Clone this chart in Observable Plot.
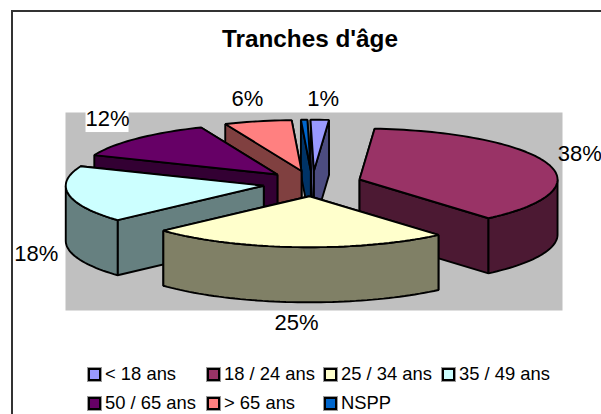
<!DOCTYPE html>
<html lang="fr">
<head>
<meta charset="utf-8">
<script src="https://cdn.jsdelivr.net/npm/d3@7"></script>
<script src="https://cdn.jsdelivr.net/npm/@observablehq/plot@0.6"></script>
<style>
  html, body { margin: 0; padding: 0; background: #fff; }
  #chart { position: relative; width: 601px; height: 414px; overflow: hidden;
           font-family: "Liberation Sans", Arial, sans-serif; color: #000; }
  #border { position: absolute; left: 11px; top: 10px; width: 700px; height: 500px;
            border: 2px solid #333; box-sizing: border-box; }
  #title { position: absolute; left: 0; width: 620px; top: 26px; text-align: center;
           font-size: 24.3px; line-height: 26px; font-weight: bold; }
  #plot { position: absolute; left: 0; top: 85px; }
  #plot svg { display: block; overflow: visible; background: transparent; }
  #legend { position: absolute; left: 88px; top: 361px; width: 500px; font-size: 18.4px; }
  #legend span.item { position: absolute; white-space: nowrap; display: flex; align-items: center; height: 26px; }
  #legend i { display: inline-block; width: 13px; height: 13px; box-sizing: border-box;
              border: 2px solid #000; outline: 1px solid #999; outline-offset: -0.5px; margin-right: 4px; }
</style>
</head>
<body>
<div id="chart">
  <div id="border"></div>
  <div id="title">Tranches d'âge</div>
  <div id="plot"></div>
  <div id="legend"></div>
</div>
<script>
// Data
const categories = ["< 18 ans", "18 / 24 ans", "25 / 34 ans", "35 / 49 ans", "50 / 65 ans", "> 65 ans", "NSPP"];
const percentLabels = ["1%", "38%", "25%", "18%", "12%", "6%", ""];
const shares = [1.49, 37.5, 24.5, 18, 12.49, 5.5, 0.52];
const topColors = ["#9999FF", "#993366", "#FFFFCC", "#CCFFFF", "#660066", "#FF8080", "#0066CC"];
const wallColors = ["#4C4C80", "#4C1933", "#808066", "#668080", "#330033", "#804040", "#003366"];

// Layout: x unit = horizontal pie radius, y unit = vertical pie radius
const RX = 198, RY = 51, EXPLODE = 0.25, DEPTH = 1.08;
const CX = 312, CY = 183;              // pixel centre of the unexploded pie
const START = -Math.PI / 180;          // first slice angle
const SVG_TOP = 85, SVG_H = 255;
const box = {left: 65, right: 562, top: 112, bottom: 310}; // plot area in page pixels
// Pixel offset of each percentage from the rim at the slice's middle
const labelNudge = [[3.5, -21], [32, -9.5], [-1, 75.5], [-32.5, 59], [-29.5, -20], [-10.5, -22], [0, 0]];

const toX = (px) => (px - CX) / RX;
const toY = (py) => (py - CY) / RY;

const slices = d3.pie().sort(null).value((d) => d)
  .startAngle(START).endAngle(START + 2 * Math.PI)(shares).map((a, i) => {
  const mid = (a.startAngle + a.endAngle) / 2;
  return {
    i, a0: a.startAngle, a1: a.endAngle, mid,
    ax: EXPLODE * Math.sin(mid),
    ay: -EXPLODE * Math.cos(mid)
  };
});

const faces = [];
function face(id, color, pts) {
  for (const [x, y] of pts) faces.push({id, color, x, y});
}
function rim(s, t0, t1) {
  const n = Math.max(2, Math.ceil(Math.abs(t1 - t0) / 0.03));
  return d3.range(n + 1).map((k) => {
    const t = t0 + (t1 - t0) * k / n;
    return [s.ax + Math.sin(t), s.ay - Math.cos(t)];
  });
}
const extrude = (p) => [p[0], p[1] + DEPTH];

// Back to front
const drawOrder = [0, 6, 5, 4, 3, 1, 2];
for (const i of drawOrder) {
  const s = slices[i];
  const apex = [s.ax, s.ay];
  const p0 = [s.ax + Math.sin(s.a0), s.ay - Math.cos(s.a0)];
  const p1 = [s.ax + Math.sin(s.a1), s.ay - Math.cos(s.a1)];
  const cuts = [[apex, p0], [apex, p1]].sort((u, v) => (u[0][1] + u[1][1]) - (v[0][1] + v[1][1]));
  cuts.forEach(([a, b], k) => {
    face(`cut${i}-${k}`, wallColors[i], [a, b, extrude(b), extrude(a), a]);
  });
  // Outer wall: only the front half of the rim
  const f0 = Math.max(s.a0, Math.PI / 2), f1 = Math.min(s.a1, 3 * Math.PI / 2);
  if (f1 > f0) {
    const r = rim(s, f0, f1);
    face(`wall${i}`, wallColors[i], [...r, ...r.slice().reverse().map(extrude), r[0]]);
  }
  face(`top${i}`, topColors[i], [apex, ...rim(s, s.a0, s.a1), apex]);
}

const labels = percentLabels.map((label, i) => ({label, i})).filter((d) => d.label).map((d) => {
  const s = slices[d.i];
  return {label: d.label,
          x: s.ax + Math.sin(s.mid) + labelNudge[d.i][0] / RX,
          y: s.ay - Math.cos(s.mid) + labelNudge[d.i][1] / RY};
});
const whiteBehind = labels.filter((d) => d.label === "12%");

const plot = Plot.plot({
  width: 601,
  height: SVG_H,
  marginTop: box.top - SVG_TOP,
  marginBottom: SVG_TOP + SVG_H - box.bottom,
  marginLeft: box.left,
  marginRight: 601 - box.right,
  x: {domain: [toX(box.left), toX(box.right)], axis: null},
  y: {domain: [toY(box.top), toY(box.bottom)], reverse: true, axis: null},
  color: {type: "identity"},
  style: {background: "transparent", overflow: "visible"},
  marks: [
    Plot.frame({fill: "#C0C0C0", stroke: null}),
    Plot.line(faces, {x: "x", y: "y", z: "id", fill: "color", stroke: "#000", strokeWidth: 1.9,
                      curve: "linear", strokeLinejoin: "miter", strokeLinecap: "butt"}),
    Plot.rect(whiteBehind, {x1: (d) => d.x - 21.5 / RX, x2: (d) => d.x + 21.5 / RX,
                            y1: (d) => d.y - 13 / RY, y2: (d) => d.y + 14 / RY, fill: "#fff"}),
    Plot.text(labels, {x: "x", y: "y", text: "label", fontSize: 22,
                       fontFamily: "'Liberation Sans', Arial, sans-serif", fill: "#000"})
  ]
});
document.getElementById("plot").appendChild(plot);

// Legend
const legendPos = [[0, 0], [119, 0], [236, 0], [354, 0], [0, 29], [119, 29], [236, 29]];
const legend = document.getElementById("legend");
categories.forEach((c, i) => {
  const el = document.createElement("span");
  el.className = "item";
  el.style.left = legendPos[i][0] + "px";
  el.style.top = legendPos[i][1] + "px";
  const sw = document.createElement("i");
  sw.style.background = topColors[i];
  el.appendChild(sw);
  el.appendChild(document.createTextNode(c));
  legend.appendChild(el);
});
</script>
</body>
</html>
